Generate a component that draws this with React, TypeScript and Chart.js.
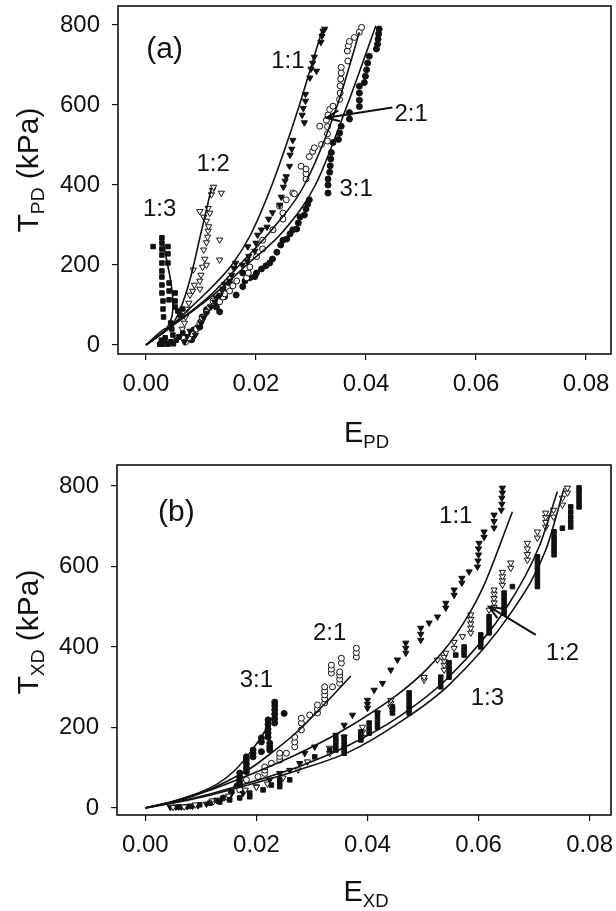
import React, { useEffect, useRef } from 'react';
import { Chart, registerables } from 'chart.js';

Chart.register(...registerables);

type P = [number, number];

const FONT = '"Liberation Sans", Arial, Helvetica, sans-serif';
const INK = '#111';

const X_TICKS = [0, 0.02, 0.04, 0.06, 0.08];
const Y_TICKS = [0, 200, 400, 600, 800];

// ---------------- Panel (a): T_PD vs E_PD ----------------
const A_R11: P[] = [
  [0.007, 8], [0.0075, 22], [0.008, 35], [0.009, 25], [0.0095, 45], [0.01, 55], [0.0105, 68], [0.011, 80],
  [0.0118, 95], [0.0125, 108], [0.0128, 118], [0.0135, 125], [0.014, 140], [0.0143, 152], [0.0152, 160],
  [0.0156, 175], [0.016, 192], [0.0163, 205], [0.0175, 200], [0.0184, 210], [0.0187, 222], [0.0185, 246],
  [0.0198, 235], [0.02, 255], [0.0203, 275], [0.021, 288], [0.022, 295], [0.0223, 315], [0.023, 331],
  [0.0243, 350], [0.0246, 370], [0.025, 395], [0.0253, 410], [0.0255, 421], [0.0261, 447], [0.0262, 475],
  [0.0265, 490], [0.0267, 512], [0.0284, 575], [0.0286, 592], [0.0288, 556], [0.029, 610], [0.029, 627],
  [0.0298, 668], [0.03, 690], [0.0303, 705], [0.0306, 720], [0.031, 685], [0.0318, 757], [0.032, 772],
  [0.0322, 785], [0.0325, 790],
];
const A_R12: P[] = [
  [0.0062, 22], [0.0066, 40], [0.007, 55], [0.0072, 70], [0.0075, 90], [0.0078, 105], [0.008, 125],
  [0.0085, 135], [0.0088, 150], [0.0086, 188], [0.0098, 140], [0.0098, 160], [0.01, 175], [0.0103, 195],
  [0.0107, 215], [0.011, 200], [0.0105, 238], [0.011, 256], [0.0112, 270], [0.0113, 285], [0.0114, 296],
  [0.0134, 213], [0.0134, 263], [0.0098, 334], [0.0105, 320], [0.011, 310], [0.0113, 342], [0.0116, 330],
  [0.0119, 376], [0.0121, 387], [0.0123, 395], [0.0137, 380],
];
const A_R13: P[] = [
  [0.0013, 246], [0.0029, 268], [0.0029, 255], [0.0029, 240], [0.0029, 225], [0.0029, 205], [0.0029, 185],
  [0.0029, 170], [0.0029, 150], [0.0029, 130], [0.0031, 110], [0.0031, 90], [0.0032, 70], [0.004, 246],
  [0.004, 228], [0.004, 205], [0.0042, 155], [0.0042, 135], [0.0042, 113], [0.0053, 130], [0.0053, 110],
  [0.0053, 95], [0.0045, 55], [0.0047, 40], [0.0049, 25], [0.0058, 85], [0.0062, 75], [0.0066, 90],
  [0.0025, 2], [0.003, 2], [0.0035, 5], [0.004, 2], [0.0045, 8], [0.005, 3], [0.0055, 12], [0.006, 20],
  [0.0067, 30], [0.0035, 18], [0.0028, 12],
];
const A_R21: P[] = [
  [0.0072, 8], [0.0078, 18], [0.0083, 28], [0.0092, 40], [0.0098, 55], [0.0103, 68], [0.011, 82],
  [0.0116, 95], [0.0122, 110], [0.0134, 108], [0.014, 120], [0.0143, 128], [0.0152, 135], [0.0158, 148],
  [0.0165, 160], [0.0183, 168], [0.0186, 180], [0.0189, 195], [0.0201, 221], [0.0212, 240], [0.0212, 262],
  [0.0231, 288], [0.0249, 315], [0.0249, 330], [0.0243, 347], [0.0255, 363], [0.0267, 380], [0.027, 378],
  [0.0282, 447], [0.0291, 415], [0.0291, 428], [0.0291, 440], [0.0297, 471], [0.0303, 484], [0.0306, 493],
  [0.0319, 501], [0.0316, 547], [0.033, 510], [0.033, 528], [0.033, 546], [0.0328, 562], [0.0331, 575],
  [0.0334, 589], [0.034, 597], [0.0352, 614], [0.0353, 630], [0.0353, 648], [0.0354, 665], [0.0355, 680],
  [0.0355, 694], [0.0367, 710], [0.0366, 735], [0.0368, 748], [0.037, 759], [0.0379, 769], [0.0388, 782],
  [0.0392, 794],
];
const A_R31: P[] = [
  [0.0083, 13], [0.0085, 25], [0.0087, 38], [0.0098, 45], [0.01, 58], [0.0102, 70], [0.011, 88],
  [0.0128, 95], [0.013, 108], [0.0132, 120], [0.0134, 83], [0.014, 138], [0.0143, 121], [0.0152, 155],
  [0.0164, 125], [0.0176, 146], [0.0176, 180], [0.018, 160], [0.0189, 168], [0.0198, 171], [0.0201, 180],
  [0.021, 190], [0.0218, 198], [0.0225, 205], [0.023, 215], [0.0238, 232], [0.0245, 250], [0.0249, 262],
  [0.0256, 265], [0.0262, 278], [0.0267, 288], [0.0274, 290], [0.0277, 305], [0.028, 320], [0.0288, 325],
  [0.0291, 340], [0.0294, 352], [0.0297, 363], [0.0331, 380], [0.0331, 400], [0.0331, 415], [0.0334, 432],
  [0.0335, 448], [0.0336, 465], [0.0337, 481], [0.034, 506], [0.035, 514], [0.0352, 530], [0.0355, 547],
  [0.037, 565], [0.037, 581], [0.0388, 596], [0.0388, 612], [0.0388, 630], [0.0388, 647], [0.0397, 656],
  [0.0399, 672], [0.0401, 688], [0.0403, 705], [0.0406, 722], [0.0419, 740], [0.0421, 752], [0.0422, 765],
  [0.0423, 778], [0.0424, 790],
];
const A_FIT_11: P[] = [
  [0, 0], [0.004, 40], [0.008, 92], [0.012, 145], [0.0156, 200], [0.019, 275], [0.0229, 400],
  [0.0255, 500], [0.0279, 600], [0.03, 695], [0.0321, 790],
];
const A_FIT_12: P[] = [
  [0, 0], [0.0031, 38], [0.0047, 50], [0.0062, 88], [0.008, 163], [0.0098, 268], [0.011, 338], [0.0119, 393],
];
const A_FIT_13: P[] = [
  [0, 0], [0.0025, 25], [0.0038, 42], [0.0047, 70], [0.0049, 110], [0.0045, 160], [0.0038, 210], [0.0031, 260],
];
const A_FIT_21: P[] = [
  [0, 0], [0.004, 40], [0.008, 82], [0.012, 128], [0.017, 200], [0.023, 290], [0.0288, 400],
  [0.0348, 600], [0.0388, 782],
];
const A_FIT_31: P[] = [
  [0, 0], [0.004, 40], [0.008, 80], [0.012, 122], [0.0183, 200], [0.025, 285], [0.0308, 400],
  [0.0366, 600], [0.0418, 798],
];

// ---------------- Panel (b): T_XD vs E_XD ----------------
const B_R11: P[] = [
  [0.0045, 2], [0.0055, 3], [0.0065, 3], [0.0075, 4], [0.0085, 5], [0.0095, 6], [0.011, 10], [0.0128, 20],
  [0.0152, 28], [0.0176, 37], [0.02, 53], [0.0224, 70], [0.0242, 86], [0.026, 94], [0.0278, 111],
  [0.0287, 136], [0.0305, 152], [0.0343, 181], [0.0358, 206], [0.0373, 231], [0.04, 248], [0.04, 258],
  [0.04, 268], [0.0412, 293], [0.0427, 310], [0.0442, 343], [0.0454, 368], [0.0469, 385], [0.0469, 397],
  [0.0469, 410], [0.0496, 417], [0.0496, 432], [0.0496, 447], [0.0511, 460], [0.0526, 475], [0.0541, 497],
  [0.0541, 509], [0.0556, 529], [0.0556, 542], [0.057, 559], [0.057, 571], [0.0583, 587], [0.0598, 599],
  [0.0599, 614], [0.06, 629], [0.06, 644], [0.0601, 658], [0.061, 673], [0.061, 686], [0.0628, 696],
  [0.0628, 712], [0.0628, 728], [0.0641, 740], [0.0642, 755], [0.0642, 770], [0.0643, 783], [0.0643, 795],
];
const B_R12: P[] = [
  [0.005, 2], [0.006, 3], [0.007, 3], [0.009, 8], [0.012, 18], [0.015, 30], [0.018, 45], [0.02, 52],
  [0.022, 60], [0.0248, 75], [0.0275, 95], [0.0292, 115], [0.0332, 136], [0.0332, 149], [0.0358, 176],
  [0.0391, 176], [0.0391, 189], [0.0391, 201], [0.0418, 236], [0.0442, 251], [0.0442, 260], [0.0442, 268],
  [0.0502, 318], [0.0502, 325], [0.0526, 368], [0.0538, 343], [0.0538, 355], [0.0538, 365], [0.0538, 375],
  [0.0541, 385], [0.0556, 397], [0.0556, 412], [0.0571, 426], [0.0586, 435], [0.0586, 447], [0.0586, 458],
  [0.0586, 469], [0.0586, 480], [0.0619, 492], [0.0628, 499], [0.0628, 510], [0.0628, 521], [0.0628, 532],
  [0.0628, 542], [0.0643, 554], [0.0643, 565], [0.0643, 575], [0.0643, 586], [0.0658, 596], [0.0658, 609],
  [0.0688, 616], [0.0688, 630], [0.0688, 644], [0.0688, 658], [0.0706, 671], [0.0706, 686], [0.0721, 698],
  [0.0721, 710], [0.0721, 722], [0.0721, 733], [0.0735, 723], [0.0735, 740], [0.0751, 753], [0.0751, 770],
  [0.076, 783], [0.076, 795],
];
const B_R13: P[] = [
  [0.006, 2], [0.008, 4], [0.0098, 8], [0.0116, 12], [0.0134, 15], [0.0152, 20], [0.017, 25], [0.0188, 28],
  [0.0188, 37], [0.0212, 45], [0.0227, 57], [0.0242, 53], [0.0242, 62], [0.0242, 70], [0.026, 70],
  [0.0305, 127], [0.0332, 144], [0.0343, 144], [0.0343, 155], [0.0343, 165], [0.0343, 174], [0.0358, 136],
  [0.0358, 146], [0.0358, 156], [0.0358, 166], [0.0358, 176], [0.0388, 169], [0.0388, 179], [0.0388, 189],
  [0.0403, 186], [0.0403, 198], [0.0403, 211], [0.0418, 201], [0.0418, 213], [0.0418, 225], [0.0418, 236],
  [0.0445, 236], [0.0445, 244], [0.0445, 251], [0.0475, 236], [0.0475, 246], [0.0475, 256], [0.0475, 266],
  [0.0475, 276], [0.0475, 286], [0.0532, 301], [0.0532, 313], [0.0532, 325], [0.0547, 325], [0.0547, 337],
  [0.0547, 349], [0.0547, 361], [0.0559, 380], [0.0574, 380], [0.0574, 390], [0.0574, 400], [0.0604, 400],
  [0.0604, 410], [0.0604, 420], [0.0604, 430], [0.0619, 435], [0.0619, 445], [0.0619, 455], [0.0619, 465],
  [0.0619, 475], [0.0646, 484], [0.0646, 494], [0.0646, 504], [0.0646, 514], [0.0646, 524], [0.0646, 534],
  [0.0661, 550], [0.0706, 550], [0.0706, 560], [0.0706, 570], [0.0706, 580], [0.0706, 590], [0.0706, 600],
  [0.0706, 612], [0.0706, 624], [0.0736, 629], [0.0736, 640], [0.0736, 651], [0.0736, 662], [0.0736, 674],
  [0.0736, 686], [0.0751, 695], [0.0766, 698], [0.0766, 710], [0.0766, 722], [0.0766, 735], [0.0766, 748],
  [0.0781, 748], [0.0781, 760], [0.0781, 772], [0.0781, 784], [0.0781, 795],
];
const B_R21: P[] = [
  [0.012, 15], [0.015, 25], [0.017, 45], [0.0182, 70], [0.0203, 78], [0.0215, 86], [0.0215, 94],
  [0.0215, 102], [0.0227, 111], [0.0242, 119], [0.0242, 128], [0.0242, 136], [0.0254, 136], [0.0269, 152],
  [0.0269, 164], [0.0269, 176], [0.0281, 194], [0.0281, 211], [0.0281, 223], [0.0296, 231], [0.031, 236],
  [0.031, 246], [0.031, 256], [0.0323, 261], [0.0323, 271], [0.0323, 281], [0.0323, 291], [0.0323, 301],
  [0.0337, 301], [0.035, 310], [0.035, 320], [0.035, 330], [0.035, 338], [0.0335, 335], [0.0335, 345],
  [0.0335, 355], [0.0353, 360], [0.0353, 372], [0.038, 375], [0.038, 386], [0.038, 397],
];
const B_R31: P[] = [
  [0.014, 25], [0.0155, 40], [0.0165, 55], [0.017, 53], [0.017, 65], [0.017, 76], [0.017, 87], [0.0182, 90],
  [0.0182, 100], [0.0182, 110], [0.0182, 120], [0.0182, 127], [0.0194, 127], [0.0194, 136], [0.0194, 144],
  [0.0209, 140], [0.0209, 164], [0.0209, 174], [0.0224, 144], [0.0224, 152], [0.0224, 161], [0.0221, 176],
  [0.0221, 186], [0.0221, 196], [0.0221, 208], [0.0221, 219], [0.0233, 211], [0.0233, 222], [0.0233, 233],
  [0.0233, 244], [0.0233, 254], [0.0233, 263], [0.025, 235],
];
const B_FIT_11: P[] = [
  [0, 0], [0.006, 20], [0.012, 46], [0.018, 78], [0.0277, 136], [0.035, 188], [0.0457, 285],
  [0.0507, 345], [0.0559, 430], [0.0607, 545], [0.0661, 736],
];
const B_FIT_12: P[] = [
  [0, 0], [0.006, 16], [0.012, 36], [0.018, 60], [0.0277, 103], [0.0368, 157], [0.0457, 227],
  [0.0547, 326], [0.0649, 495], [0.0709, 649], [0.0742, 786],
];
const B_FIT_13: P[] = [
  [0, 0], [0.006, 15], [0.012, 33], [0.018, 55], [0.0277, 95], [0.0368, 140], [0.0457, 212],
  [0.0547, 306], [0.0658, 484], [0.0721, 641], [0.0754, 794],
];
const B_FIT_21: P[] = [
  [0, 0], [0.006, 18], [0.011, 42], [0.0155, 72], [0.0191, 100], [0.023, 140], [0.027, 185],
  [0.031, 240], [0.034, 283], [0.037, 328],
];
const B_FIT_31: P[] = [
  [0, 0], [0.005, 17], [0.01, 40], [0.013, 60], [0.016, 92], [0.019, 140], [0.0215, 190], [0.0235, 240],
];

// ---------------- annotations (text, positions in data units) ----------------
const A_LABELS = [
  { text: '(a)', x: 0.0034, y: 739, size: 30 },
  { text: '1:1', x: 0.0258, y: 710, size: 24 },
  { text: '1:2', x: 0.0122, y: 451, size: 24 },
  { text: '1:3', x: 0.0025, y: 338, size: 24 },
  { text: '3:1', x: 0.0382, y: 388, size: 24 },
  { text: '2:1', x: 0.0482, y: 576, size: 24 },
];
const B_LABELS = [
  { text: '(b)', x: 0.0056, y: 733, size: 30 },
  { text: '1:1', x: 0.0559, y: 724, size: 24 },
  { text: '2:1', x: 0.0332, y: 434, size: 24 },
  { text: '3:1', x: 0.02, y: 318, size: 24 },
  { text: '1:3', x: 0.0616, y: 272, size: 24 },
  { text: '1:2', x: 0.0751, y: 384, size: 24 },
];
const A_ARROW: { from: P; to: P } = { from: [0.0448, 594], to: [0.0328, 568] };
const B_ARROW: { from: P; to: P } = { from: [0.0703, 430], to: [0.0619, 500] };

type Style = 'tri' | 'otri' | 'sq' | 'oc' | 'c';

interface PanelCfg {
  series: { pts: P[]; style: Style }[];
  fits: P[][];
  labels: { text: string; x: number; y: number; size: number }[];
  arrow: { from: P; to: P };
  sub: string;
  xMin: number; xMax: number; yMin: number; yMax: number;
  height: number;
  padTop: number;
  yAxisWidth: number;
  xAxisHeight: number;
  xTitleBaseline: number;
  yTitleOffset: number;
}

const PANEL_A: PanelCfg = {
  series: [
    { pts: A_R13, style: 'sq' },
    { pts: A_R12, style: 'otri' },
    { pts: A_R11, style: 'tri' },
    { pts: A_R21, style: 'oc' },
    { pts: A_R31, style: 'c' },
  ],
  fits: [A_FIT_11, A_FIT_12, A_FIT_13, A_FIT_21, A_FIT_31],
  labels: A_LABELS,
  arrow: A_ARROW,
  sub: 'PD',
  xMin: -0.00508, xMax: 0.08454, yMin: -22.5, yMax: 847.5,
  height: 455, padTop: 6, yAxisWidth: 118, xAxisHeight: 101,
  xTitleBaseline: 442, yTitleOffset: -10,
};

const PANEL_B: PanelCfg = {
  series: [
    { pts: B_R13, style: 'sq' },
    { pts: B_R12, style: 'otri' },
    { pts: B_R11, style: 'tri' },
    { pts: B_R21, style: 'oc' },
    { pts: B_R31, style: 'c' },
  ],
  fits: [B_FIT_11, B_FIT_12, B_FIT_13, B_FIT_21, B_FIT_31],
  labels: B_LABELS,
  arrow: B_ARROW,
  sub: 'XD',
  xMin: -0.0051, xMax: 0.08385, yMin: -17.4, yMax: 852,
  height: 456, padTop: 10, yAxisWidth: 117, xAxisHeight: 96,
  xTitleBaseline: 446, yTitleOffset: -8,
};

function styleProps(st: Style) {
  switch (st) {
    case 'tri':
      return { pointStyle: 'triangle', pointRotation: 180, pointRadius: 3.6, pointBackgroundColor: INK };
    case 'otri':
      return { pointStyle: 'triangle', pointRotation: 180, pointRadius: 3.6, pointBackgroundColor: '#fff' };
    case 'sq':
      return { pointStyle: 'rect', pointRotation: 0, pointRadius: 3.2, pointBackgroundColor: INK };
    case 'oc':
      return { pointStyle: 'circle', pointRotation: 0, pointRadius: 3, pointBackgroundColor: '#fff' };
    default:
      return { pointStyle: 'circle', pointRotation: 0, pointRadius: 3, pointBackgroundColor: INK };
  }
}

function drawSubText(ctx: CanvasRenderingContext2D, main: string, sub: string, rest: string, size: number) {
  const subSize = size * 0.64;
  ctx.font = `${size}px ${FONT}`;
  const w1 = ctx.measureText(main).width;
  const w3 = ctx.measureText(rest).width;
  ctx.font = `${subSize}px ${FONT}`;
  const w2 = ctx.measureText(sub).width;
  let x = -(w1 + w2 + w3) / 2;
  ctx.textAlign = 'left';
  ctx.textBaseline = 'alphabetic';
  ctx.font = `${size}px ${FONT}`;
  ctx.fillText(main, x, 0);
  x += w1;
  ctx.font = `${subSize}px ${FONT}`;
  ctx.fillText(sub, x, size * 0.2);
  x += w2;
  ctx.font = `${size}px ${FONT}`;
  if (rest) ctx.fillText(rest, x, 0);
}

function makeOverlay(cfg: PanelCfg) {
  return {
    id: 'overlay',
    afterDraw(chart: any) {
      const { ctx, chartArea: ca, scales } = chart;
      const xs = scales.x;
      const ys = scales.y;
      ctx.save();
      ctx.strokeStyle = INK;
      ctx.lineWidth = 1.6;
      ctx.strokeRect(ca.left, ca.top, ca.right - ca.left, ca.bottom - ca.top);
      ctx.fillStyle = INK;
      ctx.textAlign = 'center';
      ctx.textBaseline = 'middle';
      for (const l of cfg.labels) {
        ctx.font = `${l.size}px ${FONT}`;
        ctx.fillText(l.text, xs.getPixelForValue(l.x), ys.getPixelForValue(l.y));
      }
      const fx = xs.getPixelForValue(cfg.arrow.from[0]);
      const fy = ys.getPixelForValue(cfg.arrow.from[1]);
      const tx = xs.getPixelForValue(cfg.arrow.to[0]);
      const ty = ys.getPixelForValue(cfg.arrow.to[1]);
      ctx.strokeStyle = INK;
      ctx.lineWidth = 2;
      ctx.beginPath();
      ctx.moveTo(fx, fy);
      ctx.lineTo(tx, ty);
      ctx.stroke();
      const ang = Math.atan2(ty - fy, tx - fx);
      const hl = 14;
      ctx.beginPath();
      ctx.moveTo(tx - hl * Math.cos(ang - 0.4), ty - hl * Math.sin(ang - 0.4));
      ctx.lineTo(tx, ty);
      ctx.lineTo(tx - hl * Math.cos(ang + 0.4), ty - hl * Math.sin(ang + 0.4));
      ctx.stroke();
      ctx.fillStyle = INK;
      ctx.save();
      ctx.translate((ca.left + ca.right) / 2 + 2, cfg.xTitleBaseline);
      drawSubText(ctx, 'E', cfg.sub, '', 29);
      ctx.restore();
      ctx.save();
      ctx.translate(38, (ca.top + ca.bottom) / 2 + cfg.yTitleOffset);
      ctx.rotate(-Math.PI / 2);
      drawSubText(ctx, 'T', cfg.sub, ' (kPa)', 30);
      ctx.restore();
      ctx.restore();
    },
  };
}

function zeroPad(s: any) {
  s.paddingTop = 0;
  s.paddingBottom = 0;
  s.paddingLeft = 0;
  s.paddingRight = 0;
}

function Panel({ cfg }: { cfg: PanelCfg }) {
  const ref = useRef<HTMLCanvasElement | null>(null);
  useEffect(() => {
    if (!ref.current) return;
    const datasets: any[] = [];
    cfg.fits.forEach((f, i) => {
      const monotoneX = f.every((p, j) => j === 0 || p[0] >= f[j - 1][0]);
      datasets.push({
        data: f.map(([x, y]) => ({ x, y })),
        showLine: true,
        borderColor: INK,
        borderWidth: 1.6,
        pointRadius: 0,
        tension: 0.3,
        cubicInterpolationMode: monotoneX ? 'monotone' : 'default',
        fill: false,
        order: 1,
      });
    });
    for (const s of cfg.series) {
      datasets.push({
        data: s.pts.map(([x, y]) => ({ x, y })),
        showLine: false,
        pointBorderColor: INK,
        pointBorderWidth: 1,
        order: 2,
        ...styleProps(s.style),
      });
    }
    const tickFont = { family: FONT, size: 24 };
    const chart = new Chart(ref.current, {
      type: 'scatter',
      data: { datasets },
      plugins: [makeOverlay(cfg)],
      options: {
        animation: false,
        responsive: false,
        devicePixelRatio: 1,
        events: [],
        layout: { padding: { top: cfg.padTop, right: 4, left: 0, bottom: 0 } },
        plugins: { legend: { display: false }, tooltip: { enabled: false } },
        scales: {
          x: {
            type: 'linear',
            min: cfg.xMin,
            max: cfg.xMax,
            afterBuildTicks: (s: any) => { s.ticks = X_TICKS.map((v) => ({ value: v })); },
            afterFit: (s: any) => { s.height = cfg.xAxisHeight; zeroPad(s); },
            ticks: {
              callback: (v: any) => Number(v).toFixed(2),
              font: tickFont,
              color: INK,
              padding: 10,
              maxRotation: 0,
              autoSkip: false,
            },
            grid: { drawOnChartArea: false, drawTicks: true, tickLength: 6, color: INK, lineWidth: 1.2 },
            border: { display: false },
          },
          y: {
            type: 'linear',
            min: cfg.yMin,
            max: cfg.yMax,
            afterBuildTicks: (s: any) => { s.ticks = Y_TICKS.map((v) => ({ value: v })); },
            afterFit: (s: any) => { s.width = cfg.yAxisWidth; zeroPad(s); },
            ticks: {
              callback: (v: any) => String(Math.round(Number(v))),
              font: tickFont,
              color: INK,
              padding: 12,
              autoSkip: false,
            },
            grid: { drawOnChartArea: false, drawTicks: true, tickLength: 6, color: INK, lineWidth: 1.2 },
            border: { display: false },
          },
        },
      } as any,
    });
    return () => chart.destroy();
  }, [cfg]);
  return (
    <canvas ref={ref} width={616} height={cfg.height} style={{ display: 'block', width: 616, height: cfg.height }} />
  );
}

export default function App() {
  return (
    <div style={{ position: 'absolute', left: 0, top: 0, width: 616, height: 911, background: '#fff' }}>
      <Panel cfg={PANEL_A} />
      <Panel cfg={PANEL_B} />
    </div>
  );
}
